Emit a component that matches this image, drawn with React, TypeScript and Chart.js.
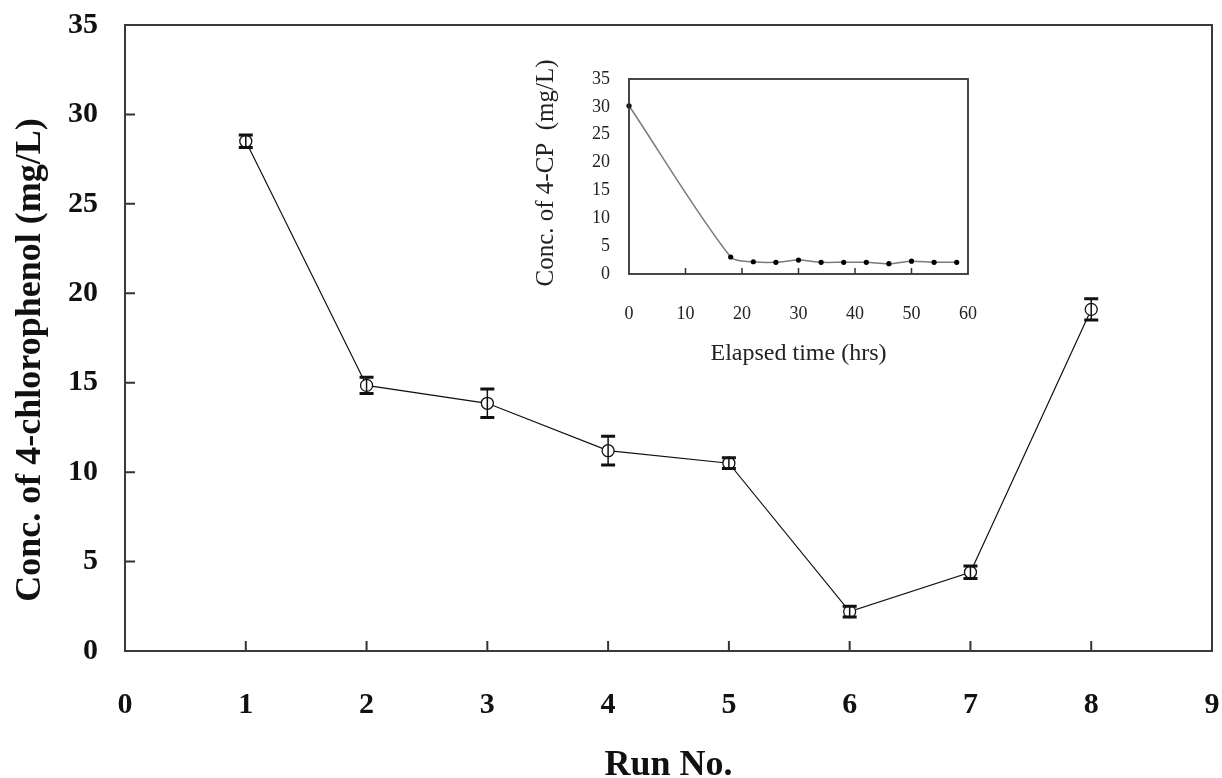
import React, { useEffect, useRef } from "react";
import { Chart, registerables } from "chart.js";

Chart.register(...registerables);

// Main plot: residual 4-chlorophenol per run
const runNumbers = [1, 2, 3, 4, 5, 6, 7, 8];
const runConc = [28.5, 14.85, 13.85, 11.2, 10.5, 2.2, 4.4, 19.1];
const runError = [0.35, 0.45, 0.8, 0.8, 0.3, 0.3, 0.35, 0.6];
const runTicks = [0, 1, 2, 3, 4, 5, 6, 7, 8, 9];
const concTicks = [0, 5, 10, 15, 20, 25, 30, 35];

// Inset: 4-CP concentration over elapsed time
const elapsedHours = [0, 18, 22, 26, 30, 34, 38, 42, 46, 50, 54, 58];
const cpConc = [30.2, 3.05, 2.2, 2.1, 2.5, 2.1, 2.1, 2.1, 1.85, 2.3, 2.1, 2.1];
const hourTicks = [0, 10, 20, 30, 40, 50, 60];
const cpTicks = [0, 5, 10, 15, 20, 25, 30, 35];

const SERIF = '"Liberation Serif", "Times New Roman", serif';

// fixed scale size, no automatic label padding
const fixSize = (w: number | null, h: number | null) => (s: any) => {
  if (w !== null) s.width = w;
  if (h !== null) s.height = h;
  s.paddingTop = 0;
  s.paddingBottom = 0;
  s.paddingLeft = 0;
  s.paddingRight = 0;
};

const mainDecor = {
  id: "mainDecor",
  afterDatasetsDraw(chart: any) {
    const { ctx, chartArea: a, scales } = chart;
    const x = scales.x;
    const y = scales.y;
    ctx.save();
    // error bars
    ctx.strokeStyle = "#111";
    runNumbers.forEach((r, i) => {
      const px = x.getPixelForValue(r);
      const top = y.getPixelForValue(runConc[i] + runError[i]);
      const bot = y.getPixelForValue(runConc[i] - runError[i]);
      ctx.lineWidth = 1.5;
      ctx.beginPath();
      ctx.moveTo(px, top);
      ctx.lineTo(px, bot);
      ctx.stroke();
      ctx.lineWidth = 3;
      ctx.beginPath();
      ctx.moveTo(px - 7, top);
      ctx.lineTo(px + 7, top);
      ctx.moveTo(px - 7, bot);
      ctx.lineTo(px + 7, bot);
      ctx.stroke();
    });
    // inward tick marks
    ctx.strokeStyle = "#333";
    ctx.lineWidth = 2;
    ctx.beginPath();
    runTicks.slice(1, -1).forEach((v) => {
      const px = x.getPixelForValue(v);
      ctx.moveTo(px, a.bottom);
      ctx.lineTo(px, a.bottom - 10);
    });
    concTicks.slice(1, -1).forEach((v) => {
      const py = y.getPixelForValue(v);
      ctx.moveTo(a.left, py);
      ctx.lineTo(a.left + 10, py);
    });
    ctx.stroke();
    // frame
    ctx.strokeStyle = "#3a3a3a";
    ctx.lineWidth = 2;
    ctx.strokeRect(a.left, a.top, a.right - a.left, a.bottom - a.top);
    ctx.restore();
  },
  afterDraw(chart: any) {
    const { ctx, chartArea: a } = chart;
    ctx.save();
    ctx.fillStyle = "#111";
    ctx.font = `bold 36px ${SERIF}`;
    ctx.textAlign = "center";
    ctx.textBaseline = "alphabetic";
    ctx.fillText("Run No.", (a.left + a.right) / 2, 775);
    ctx.translate(40, 360);
    ctx.rotate(-Math.PI / 2);
    ctx.fillText("Conc. of 4-chlorophenol (mg/L)", 0, 0);
    ctx.restore();
  },
};

const insetDecor = {
  id: "insetDecor",
  afterDatasetsDraw(chart: any) {
    const { ctx, chartArea: a, scales } = chart;
    const x = scales.x;
    ctx.save();
    ctx.strokeStyle = "#333";
    ctx.lineWidth = 1.5;
    ctx.beginPath();
    hourTicks.slice(1, -1).forEach((v) => {
      const px = x.getPixelForValue(v);
      ctx.moveTo(px, a.bottom);
      ctx.lineTo(px, a.bottom - 6);
    });
    ctx.stroke();
    ctx.lineWidth = 1.8;
    ctx.strokeRect(a.left, a.top, a.right - a.left, a.bottom - a.top);
    ctx.restore();
  },
  afterDraw(chart: any) {
    const { ctx, chartArea: a } = chart;
    ctx.save();
    ctx.fillStyle = "#222";
    ctx.font = `24px ${SERIF}`;
    ctx.textAlign = "center";
    ctx.textBaseline = "alphabetic";
    ctx.fillText("Elapsed time (hrs)", (a.left + a.right) / 2, 310);
    ctx.font = `25px ${SERIF}`;
    ctx.translate(43, 123);
    ctx.rotate(-Math.PI / 2);
    ctx.fillText("Conc. of 4-CP  (mg/L)", 0, 0);
    ctx.restore();
  },
};

export default function App() {
  const mainRef = useRef<HTMLCanvasElement | null>(null);
  const insetRef = useRef<HTMLCanvasElement | null>(null);

  useEffect(() => {
    if (!mainRef.current || !insetRef.current) return;

    const mainTickFont = { family: SERIF, size: 30, weight: "bold" as const };
    const main = new Chart(mainRef.current, {
      type: "line",
      data: {
        datasets: [
          {
            data: runNumbers.map((r, i) => ({ x: r, y: runConc[i] })),
            borderColor: "#111",
            borderWidth: 1.2,
            pointRadius: 6,
            pointBorderWidth: 1.3,
            pointBorderColor: "#111",
            pointBackgroundColor: "#fff",
            tension: 0,
            clip: false as any,
          },
        ],
      },
      options: {
        animation: false,
        responsive: false,
        layout: { autoPadding: false, padding: { top: 25, right: 10, left: 0, bottom: 0 } },
        plugins: { legend: { display: false }, tooltip: { enabled: false } },
        scales: {
          x: {
            type: "linear",
            min: 0,
            max: 9,
            afterFit: fixSize(null, 127),
            afterBuildTicks: (s: any) => {
              s.ticks = runTicks.map((v) => ({ value: v }));
            },
            grid: { display: false, drawTicks: false },
            border: { display: false },
            ticks: { padding: 36, color: "#111", font: mainTickFont },
          },
          y: {
            type: "linear",
            min: 0,
            max: 35,
            afterFit: fixSize(125, null),
            afterBuildTicks: (s: any) => {
              s.ticks = concTicks.map((v) => ({ value: v }));
            },
            grid: { display: false, drawTicks: false },
            border: { display: false },
            ticks: { padding: 27, color: "#111", font: mainTickFont },
          },
        },
      },
      plugins: [mainDecor],
    });

    const insetTickFont = { family: SERIF, size: 18 };
    const inset = new Chart(insetRef.current, {
      type: "line",
      data: {
        datasets: [
          {
            data: elapsedHours.map((h, i) => ({ x: h, y: cpConc[i] })),
            borderColor: "#7a7a7a",
            borderWidth: 1.5,
            pointRadius: 2.6,
            pointBorderWidth: 0,
            pointBackgroundColor: "#000",
            tension: 0.3,
            clip: false as any,
          },
        ],
      },
      options: {
        animation: false,
        responsive: false,
        layout: { autoPadding: false, padding: { top: 29, right: 32, left: 0, bottom: 0 } },
        plugins: { legend: { display: false }, tooltip: { enabled: false } },
        scales: {
          x: {
            type: "linear",
            min: 0,
            max: 60,
            afterFit: fixSize(null, 106),
            afterBuildTicks: (s: any) => {
              s.ticks = hourTicks.map((v) => ({ value: v }));
            },
            grid: { display: false, drawTicks: false },
            border: { display: false },
            ticks: { padding: 29, color: "#222", font: insetTickFont },
          },
          y: {
            type: "linear",
            min: 0,
            max: 35,
            afterFit: fixSize(119, null),
            afterBuildTicks: (s: any) => {
              s.ticks = cpTicks.map((v) => ({ value: v }));
            },
            grid: { display: false, drawTicks: false },
            border: { display: false },
            ticks: { padding: 19, color: "#222", font: insetTickFont },
          },
        },
      },
      plugins: [insetDecor],
    });

    return () => {
      main.destroy();
      inset.destroy();
    };
  }, []);

  return (
    <div
      style={{
        position: "fixed",
        left: 0,
        top: 0,
        width: 1222,
        height: 778,
        background: "#fff",
      }}
    >
      <canvas
        ref={mainRef}
        width={1222}
        height={778}
        style={{ position: "absolute", left: 0, top: 0, width: 1222, height: 778 }}
      />
      <canvas
        ref={insetRef}
        width={490}
        height={330}
        style={{ position: "absolute", left: 510, top: 50, width: 490, height: 330 }}
      />
    </div>
  );
}
